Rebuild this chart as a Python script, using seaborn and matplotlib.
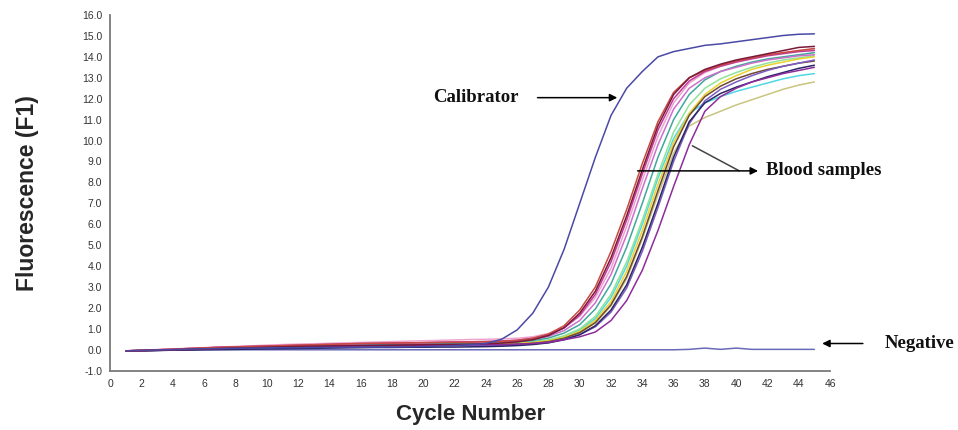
import numpy as np
import pandas as pd
import matplotlib
matplotlib.use("Agg")
import matplotlib.pyplot as plt
import seaborn as sns

cycles = list(range(1, 46))

calibrator = [-0.05, -0.03, -0.01, 0.01, 0.03, 0.05, 0.06, 0.07, 0.08, 0.09, 0.10, 0.10, 0.11, 0.11, 0.12,
              0.12, 0.13, 0.13, 0.14, 0.15, 0.17, 0.20, 0.24, 0.30, 0.50, 0.95, 1.75, 3.00, 4.80, 7.00,
              9.20, 11.20, 12.50, 13.30, 14.00, 14.25, 14.40, 14.55, 14.62, 14.72, 14.82, 14.92, 15.02, 15.08, 15.10]

negative = [-0.05, -0.04, -0.03, -0.02, -0.01, 0.00, 0.00, 0.00, 0.00, 0.00, 0.00, 0.00, 0.00, 0.00, 0.00,
            0.00, 0.00, 0.00, 0.00, 0.00, 0.00, 0.00, 0.00, 0.00, 0.00, 0.00, 0.00, 0.00, 0.00, 0.00,
            0.00, 0.00, 0.00, 0.00, 0.00, 0.00, 0.02, 0.08, 0.02, 0.08, 0.02, 0.02, 0.02, 0.02, 0.02]

red = [-0.05, -0.03, 0.00, 0.03, 0.06, 0.09, 0.12, 0.14, 0.16, 0.18, 0.20, 0.22, 0.24, 0.26, 0.28,
       0.30, 0.31, 0.32, 0.33, 0.34, 0.35, 0.36, 0.37, 0.38, 0.40, 0.45, 0.55, 0.75, 1.15, 1.90,
       3.00, 4.70, 6.70, 8.90, 10.90, 12.30, 13.00, 13.35, 13.60, 13.80, 13.95, 14.10, 14.20, 14.30, 14.40]

maroon = [-0.05, -0.04, -0.02, 0.00, 0.02, 0.04, 0.06, 0.08, 0.10, 0.12, 0.14, 0.16, 0.17, 0.18, 0.19,
          0.20, 0.21, 0.22, 0.23, 0.24, 0.25, 0.26, 0.27, 0.29, 0.32, 0.38, 0.48, 0.68, 1.05, 1.75,
          2.80, 4.40, 6.40, 8.60, 10.70, 12.20, 13.00, 13.40, 13.65, 13.85, 14.00, 14.15, 14.30, 14.45, 14.50]

magenta = [-0.05, -0.03, 0.00, 0.03, 0.06, 0.09, 0.12, 0.14, 0.16, 0.18, 0.20, 0.22, 0.24, 0.26, 0.28,
           0.30, 0.31, 0.32, 0.33, 0.34, 0.36, 0.37, 0.38, 0.40, 0.42, 0.46, 0.55, 0.72, 1.05, 1.65,
           2.65, 4.20, 6.20, 8.40, 10.50, 12.00, 12.85, 13.30, 13.55, 13.75, 13.90, 14.05, 14.15, 14.25, 14.30]

pink = [-0.05, -0.02, 0.01, 0.04, 0.07, 0.10, 0.13, 0.16, 0.19, 0.22, 0.25, 0.27, 0.29, 0.31, 0.33,
        0.35, 0.37, 0.39, 0.41, 0.43, 0.45, 0.47, 0.49, 0.50, 0.52, 0.55, 0.62, 0.78, 1.05, 1.60,
        2.50, 3.90, 5.90, 8.10, 10.20, 11.80, 12.75, 13.25, 13.55, 13.75, 13.95, 14.10, 14.20, 14.30, 14.35]

orchid = [-0.05, -0.03, 0.00, 0.03, 0.06, 0.09, 0.12, 0.14, 0.16, 0.18, 0.20, 0.22, 0.24, 0.26, 0.28,
          0.30, 0.31, 0.32, 0.33, 0.34, 0.35, 0.36, 0.37, 0.38, 0.40, 0.43, 0.50, 0.64, 0.92, 1.40,
          2.25, 3.60, 5.50, 7.70, 9.80, 11.50, 12.50, 13.00, 13.30, 13.50, 13.70, 13.85, 13.95, 14.05, 14.10]

teal = [-0.05, -0.04, -0.02, 0.00, 0.02, 0.04, 0.06, 0.08, 0.10, 0.12, 0.14, 0.16, 0.18, 0.20, 0.22,
        0.24, 0.25, 0.26, 0.27, 0.28, 0.29, 0.30, 0.31, 0.33, 0.35, 0.38, 0.44, 0.56, 0.80, 1.20,
        1.95, 3.15, 4.90, 7.00, 9.20, 11.00, 12.20, 12.90, 13.30, 13.55, 13.75, 13.90, 14.00, 14.10, 14.20]

lightgreen = [-0.05, -0.04, -0.02, 0.00, 0.02, 0.04, 0.06, 0.08, 0.10, 0.12, 0.14, 0.16, 0.17, 0.18, 0.19,
              0.20, 0.21, 0.22, 0.23, 0.24, 0.25, 0.26, 0.27, 0.28, 0.30, 0.32, 0.37, 0.47, 0.67, 1.00,
              1.60, 2.65, 4.20, 6.20, 8.40, 10.40, 11.70, 12.50, 12.95, 13.25, 13.50, 13.70, 13.85, 13.95, 14.05]

cyan = [-0.05, -0.04, -0.02, 0.00, 0.02, 0.04, 0.06, 0.08, 0.10, 0.12, 0.14, 0.16, 0.17, 0.18, 0.19,
        0.20, 0.21, 0.22, 0.23, 0.24, 0.25, 0.26, 0.27, 0.28, 0.30, 0.32, 0.37, 0.46, 0.64, 0.95,
        1.50, 2.50, 4.00, 6.00, 8.20, 10.10, 11.30, 11.80, 12.10, 12.35, 12.55, 12.75, 12.95, 13.10, 13.20]

yellow = [-0.05, -0.04, -0.02, 0.00, 0.02, 0.04, 0.06, 0.08, 0.10, 0.12, 0.14, 0.16, 0.17, 0.18, 0.19,
          0.20, 0.21, 0.22, 0.23, 0.24, 0.25, 0.26, 0.27, 0.28, 0.30, 0.31, 0.35, 0.43, 0.60, 0.88,
          1.40, 2.30, 3.75, 5.70, 7.90, 9.90, 11.30, 12.20, 12.75, 13.10, 13.40, 13.60, 13.75, 13.90, 14.00]

brown = [-0.05, -0.04, -0.03, -0.01, 0.01, 0.03, 0.05, 0.07, 0.09, 0.11, 0.13, 0.14, 0.15, 0.16, 0.17,
         0.18, 0.19, 0.20, 0.21, 0.21, 0.22, 0.22, 0.23, 0.24, 0.25, 0.27, 0.31, 0.39, 0.55, 0.82,
         1.30, 2.15, 3.50, 5.40, 7.60, 9.70, 11.20, 12.10, 12.60, 12.95, 13.20, 13.40, 13.55, 13.70, 13.80]

khaki = [-0.05, -0.04, -0.02, 0.00, 0.02, 0.04, 0.06, 0.08, 0.10, 0.12, 0.14, 0.16, 0.17, 0.18, 0.19,
         0.20, 0.21, 0.22, 0.23, 0.24, 0.25, 0.26, 0.26, 0.27, 0.28, 0.30, 0.34, 0.42, 0.57, 0.82,
         1.28, 2.10, 3.40, 5.30, 7.40, 9.40, 10.70, 11.10, 11.40, 11.70, 11.95, 12.20, 12.45, 12.65, 12.80]

navy = [-0.05, -0.04, -0.03, -0.02, -0.01, 0.00, 0.01, 0.02, 0.03, 0.04, 0.05, 0.06, 0.07, 0.08, 0.09,
        0.10, 0.11, 0.11, 0.12, 0.12, 0.13, 0.13, 0.14, 0.15, 0.17, 0.20, 0.25, 0.33, 0.48, 0.72,
        1.15, 1.90, 3.10, 4.90, 7.00, 9.20, 10.90, 11.80, 12.25, 12.55, 12.80, 13.05, 13.25, 13.45, 13.60]

violet = [-0.05, -0.04, -0.03, -0.01, 0.01, 0.03, 0.05, 0.07, 0.09, 0.11, 0.13, 0.14, 0.15, 0.16, 0.17,
          0.18, 0.18, 0.19, 0.19, 0.20, 0.20, 0.21, 0.21, 0.22, 0.22, 0.24, 0.28, 0.35, 0.50, 0.72,
          1.10, 1.80, 2.95, 4.70, 6.80, 9.00, 10.80, 11.90, 12.45, 12.80, 13.10, 13.35, 13.55, 13.70, 13.85]

purple = [-0.05, -0.04, -0.02, 0.00, 0.02, 0.04, 0.06, 0.08, 0.10, 0.12, 0.14, 0.15, 0.16, 0.17, 0.18,
          0.19, 0.20, 0.20, 0.21, 0.21, 0.22, 0.23, 0.24, 0.25, 0.25, 0.27, 0.30, 0.36, 0.48, 0.62,
          0.85, 1.40, 2.35, 3.80, 5.70, 7.80, 9.80, 11.40, 12.10, 12.50, 12.80, 13.00, 13.20, 13.35, 13.50]

series = {
    "Negative": negative,
    "khaki": khaki, "cyan": cyan, "lightgreen": lightgreen, "yellow": yellow,
    "teal": teal, "orchid": orchid, "pink": pink, "magenta": magenta,
    "brown": brown, "violet": violet, "navy": navy, "purple": purple,
    "red": red, "maroon": maroon,
    "Calibrator": calibrator,
}
palette = {
    "Negative": "#6a6ab8", "Calibrator": "#4a4aa6",
    "red": "#c84a40", "maroon": "#7a1838", "magenta": "#c03c9c", "pink": "#eea2cc",
    "orchid": "#cc6fcc", "teal": "#3fa89a", "lightgreen": "#8fe39a", "cyan": "#4fd8e2",
    "yellow": "#ecd22a", "brown": "#6e4a30", "khaki": "#c9c47e", "navy": "#2c2468",
    "violet": "#7b5cc2", "purple": "#8e2c9c",
}

df = pd.DataFrame([(name, c, v) for name, vals in series.items() for c, v in zip(cycles, vals)],
                  columns=["sample", "cycle", "value"])

sns.set_style("white")
fig = plt.figure(figsize=(9.58, 4.30), dpi=100)
ax = fig.add_axes([0.1153, 0.1379, 0.7511, 0.8272])

sns.lineplot(data=df, x="cycle", y="value", hue="sample", hue_order=list(series.keys()),
             palette=palette, linewidth=1.1, legend=False, ax=ax, estimator=None, sort=False)

ax.set_xlim(0, 46)
ax.set_ylim(-1, 16)
ax.set_xticks(range(0, 47, 2))
ax.set_yticks(range(-1, 17))
ax.set_yticklabels([f"{v:.1f}" for v in range(-1, 17)])
for s in ["top", "right"]:
    ax.spines[s].set_visible(False)
for s in ["left", "bottom"]:
    ax.spines[s].set_color("#7a7a7a")
    ax.spines[s].set_linewidth(1.3)
ax.tick_params(axis="both", direction="out", length=4, width=1, color="#7a7a7a",
               labelsize=7.5, labelcolor="#333333", pad=2)
for lab in ax.get_xticklabels() + ax.get_yticklabels():
    lab.set_family("Liberation Sans")

ax.set_xlabel("Cycle Number", fontsize=16, fontweight="bold", family="Liberation Sans", labelpad=11)
ax.set_ylabel("Fluorescence (F1)", fontsize=16.5, fontweight="bold", family="Liberation Sans", labelpad=31)

serif = dict(family="Liberation Serif", fontweight="bold", fontsize=13.5, color="#111111")
arr = dict(arrowstyle="-|>", color="black", lw=1.1, mutation_scale=11, shrinkA=0, shrinkB=0)

ax.text(20.6, 12.05, "Calibrator", ha="left", va="center", **serif)
ax.annotate("", xy=(32.4, 12.05), xytext=(27.3, 12.05), arrowprops=arr)

ax.annotate("", xy=(41.4, 8.55), xytext=(33.7, 8.55), arrowprops=arr)
ax.plot([37.2, 40.2], [9.75, 8.55], color="#444444", lw=1.1)
ax.text(41.9, 8.55, "Blood samples", ha="left", va="center", clip_on=False, **serif)

ax.annotate("", xy=(45.5, 0.3), xytext=(48.1, 0.3), arrowprops=arr, annotation_clip=False)
ax.text(49.5, 0.3, "Negative", ha="left", va="center", clip_on=False, **serif)

fig.savefig("out.png", dpi=100)
